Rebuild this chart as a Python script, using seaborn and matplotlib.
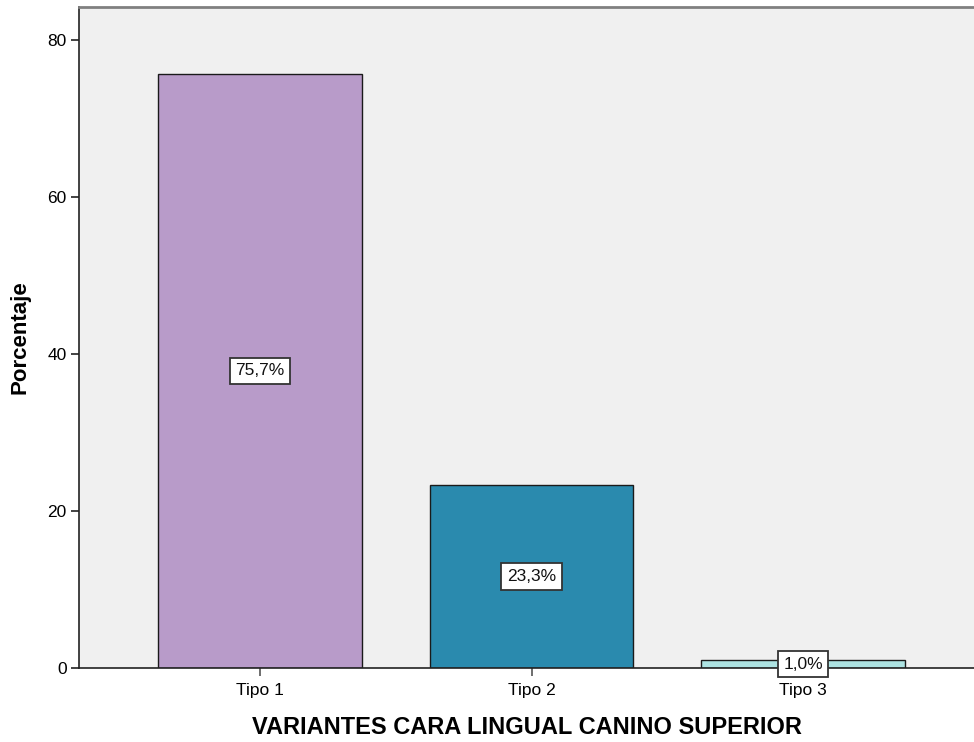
import matplotlib
matplotlib.use("Agg")
import matplotlib.pyplot as plt
import seaborn as sns
import pandas as pd

categorias = ["Tipo 1", "Tipo 2", "Tipo 3"]
porcentajes = [75.7, 23.3, 1.0]
etiquetas = ["75,7%", "23,3%", "1,0%"]
colores = ["#B89BC9", "#2A8AAE", "#ADE3E2"]

sns.set_theme(style="white")
plt.rcParams["font.family"] = ["Liberation Sans", "DejaVu Sans"]
plt.rcParams["text.color"] = "black"
plt.rcParams["axes.labelcolor"] = "black"
plt.rcParams["xtick.color"] = "black"
plt.rcParams["ytick.color"] = "black"

df = pd.DataFrame({"categoria": categorias, "porcentaje": porcentajes})

fig = plt.figure(figsize=(9.74, 7.42), dpi=100)
ax = fig.add_axes([79 / 974, 74 / 742, 1 - 79 / 974, (668 - 7) / 742])
ax.set_facecolor("#F0F0F0")

sns.barplot(data=df, x="categoria", y="porcentaje", hue="categoria",
            palette=colores, saturation=1, width=0.75, edgecolor="#1a1a1a",
            linewidth=1.0, legend=False, ax=ax)

for i, (v, t) in enumerate(zip(porcentajes, etiquetas)):
    ax.text(i, v / 2, t, ha="center", va="center", fontsize=12.5, color="#111111",
            bbox=dict(boxstyle="square,pad=0.32", facecolor="white",
                      edgecolor="#333333", linewidth=1.3))

ax.set_xlim(-0.667, 2.63)
ax.set_ylim(0, 84.2)
ax.set_yticks([0, 20, 40, 60, 80])
ax.tick_params(axis="y", direction="out", length=6, width=1.2, color="#222222",
               labelsize=12.5, pad=3, left=True)
ax.tick_params(axis="x", direction="out", length=6, width=1.2, color="#555555",
               labelsize=12.5, pad=5, bottom=True)

for side in ["left", "bottom"]:
    ax.spines[side].set_color("#222222")
    ax.spines[side].set_linewidth(1.2)
ax.spines["top"].set_color("#808080")
ax.spines["top"].set_linewidth(2)
ax.spines["right"].set_visible(False)

ax.set_ylabel("Porcentaje", fontsize=16, fontweight="bold", labelpad=12)
ax.set_xlabel("VARIANTES CARA LINGUAL CANINO SUPERIOR", fontsize=17,
              fontweight="bold", labelpad=13)

fig.savefig("out.png", dpi=100, facecolor="white")
